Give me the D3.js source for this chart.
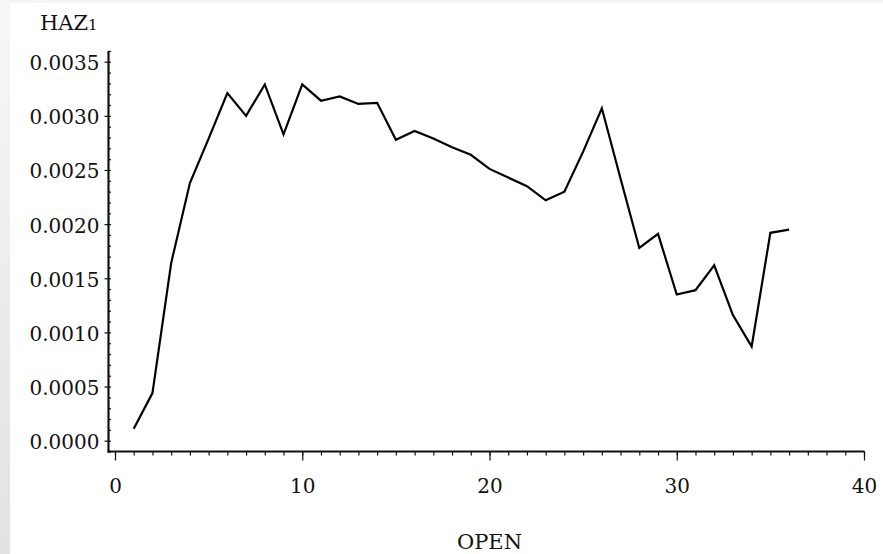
<!DOCTYPE html>
<html>
<head>
<meta charset="utf-8">
<script src="https://cdn.jsdelivr.net/npm/d3@7/dist/d3.min.js"></script>
<style>
  html, body { margin: 0; padding: 0; background: #ffffff; }
  svg { display: block; }
  text { font-family: "DejaVu Serif", serif; fill: #111; }
</style>
</head>
<body>
<svg id="chart" width="883" height="554"></svg>
<script>
// ---- data ----
const openValues = [1,2,3,4,5,6,7,8,9,10,11,12,13,14,15,16,17,18,19,20,21,22,23,24,25,26,27,28,29,30,31,32,33,34,35,36];
const haz1Values = [0.00011,0.00044,0.00164,0.00238,0.00279,0.00321,0.00300,0.00329,0.00283,0.00329,
                    0.00314,0.00318,0.00311,0.00312,0.00278,0.00286,0.00279,0.00271,0.00264,0.00251,
                    0.00243,0.00235,0.00222,0.00230,0.00267,0.00307,0.00242,0.00178,0.00191,0.00135,
                    0.00139,0.00162,0.00116,0.00087,0.00192,0.00195];
const xTickValues = [0,10,20,30,40];
const xTickLabels = ["0","10","20","30","40"];
const yTickValues = [0,0.0005,0.0010,0.0015,0.0020,0.0025,0.0030,0.0035];
const yTickLabels = ["0.0000","0.0005","0.0010","0.0015","0.0020","0.0025","0.0030","0.0035"];
const xMinorTicks = d3.range(0, 41, 1);
const yMinorTicks = d3.range(-1, 37, 1).map(d => d / 10000);
const yTitle = "HAZ";
const yTitleSub = "1";
const xTitle = "OPEN";

// ---- layout ----
const svg = d3.select("#chart");
const W = 883, H = 554;

// light gray frame strip at left / top
const defs = svg.append("defs");
const grad = defs.append("linearGradient").attr("id", "edge").attr("x1", 0).attr("y1", 0).attr("x2", 0).attr("y2", 1);
grad.append("stop").attr("offset", "0%").attr("stop-color", "#f7f7f7");
grad.append("stop").attr("offset", "100%").attr("stop-color", "#e2e2e2");
svg.append("rect").attr("x", 0).attr("y", 0).attr("width", W).attr("height", H).attr("fill", "#fff");
svg.append("rect").attr("x", 0).attr("y", 0).attr("width", 10).attr("height", H).attr("fill", "url(#edge)");
svg.append("rect").attr("x", 10).attr("y", 0).attr("width", W - 10).attr("height", 3).attr("fill", "#f5f5f5");

const x = d3.scaleLinear().domain([0, 40]).range([115, 864]);
const y = d3.scaleLinear().domain([-0.0001, 0.0036]).range([451.5, 50.9]);
const axisX0 = 108.5;           // y-axis position
const axisY0 = y(-0.0001);      // x-axis position

function styleAxis(g) {
  g.select(".domain").remove();
  g.selectAll("line").attr("stroke", "#111").attr("stroke-width", 1.2);
  g.selectAll("text").style("font-size", "20px").style("font-family", "DejaVu Serif, serif").attr("fill", "#111");
}

// ---- x axis ----
svg.append("g").attr("transform", `translate(0,${axisY0})`)
  .call(d3.axisBottom(x).tickValues(xMinorTicks).tickSize(4).tickFormat(""))
  .call(styleAxis);
svg.append("g").attr("transform", `translate(0,${axisY0})`)
  .call(d3.axisBottom(x).tickValues(xTickValues).tickSize(9).tickPadding(18)
          .tickFormat((d, i) => xTickLabels[i]))
  .call(styleAxis);
svg.append("line").attr("x1", axisX0 - 1).attr("x2", x(40) + 0.5).attr("y1", axisY0).attr("y2", axisY0)
  .attr("stroke", "#111").attr("stroke-width", 2.2);

// ---- y axis ----
svg.append("g").attr("transform", `translate(${axisX0},0)`)
  .call(d3.axisRight(y).tickValues(yMinorTicks).tickSize(2.5).tickFormat(""))
  .call(styleAxis);
const gy = svg.append("g").attr("transform", `translate(${axisX0},0)`)
  .call(d3.axisLeft(y).tickValues(yTickValues).tickSize(4).tickPadding(5)
          .tickFormat((d, i) => yTickLabels[i]))
  .call(styleAxis);
gy.selectAll("text").attr("dy", "0.4em");
svg.append("line").attr("x1", axisX0).attr("x2", axisX0).attr("y1", y(0.0036)).attr("y2", axisY0 + 1)
  .attr("stroke", "#111").attr("stroke-width", 2.2);

// ---- titles ----
const yt = svg.append("text").attr("x", 40).attr("y", 30).style("font-size", "21px");
yt.append("tspan").text(yTitle);
yt.append("tspan").style("font-size", "15px").text(yTitleSub);

svg.append("text").attr("x", (x(0) + x(40)) / 2).attr("y", 549).attr("text-anchor", "middle")
  .style("font-size", "21px").text(xTitle);

// ---- line ----
const data = openValues.map((d, i) => ({ x: d, y: haz1Values[i] }));
svg.append("path").datum(data)
  .attr("fill", "none").attr("stroke", "#000").attr("stroke-width", 2.2)
  .attr("stroke-linejoin", "miter")
  .attr("d", d3.line().x(d => x(d.x)).y(d => y(d.y)));
</script>
</body>
</html>
